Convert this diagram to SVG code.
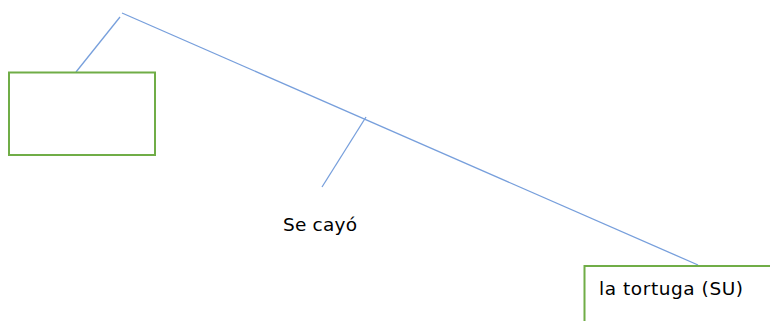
<svg xmlns="http://www.w3.org/2000/svg" width="770" height="321" viewBox="0 0 770 321">
<style>
.box{fill:#fff;stroke:#70ad47;stroke-width:2}
.ln{stroke:#779fdc;stroke-width:1.3;fill:none}
.t{font-family:"DejaVu Sans",Verdana,sans-serif;font-size:18.5px;fill:#000}
</style>
<rect width="770" height="321" fill="#fff"/>
<g id="connectors">
<line class="ln" x1="122" y1="13" x2="698" y2="265"/>
<line class="ln" x1="120" y1="17" x2="76" y2="72"/>
<line class="ln" x1="366" y1="117" x2="322" y2="187"/>
</g>
<g id="node-empty">
<rect class="box" x="9" y="72.5" width="146" height="82.5"/>
</g>
<g id="node-secayo">
<text class="t" x="283" y="231" textLength="74">Se cayó</text>
</g>
<g id="node-tortuga">
<rect class="box" x="584.5" y="266" width="200" height="70"/>
<text class="t" x="599" y="295" textLength="144">la tortuga (SU)</text>
</g>
</svg>
